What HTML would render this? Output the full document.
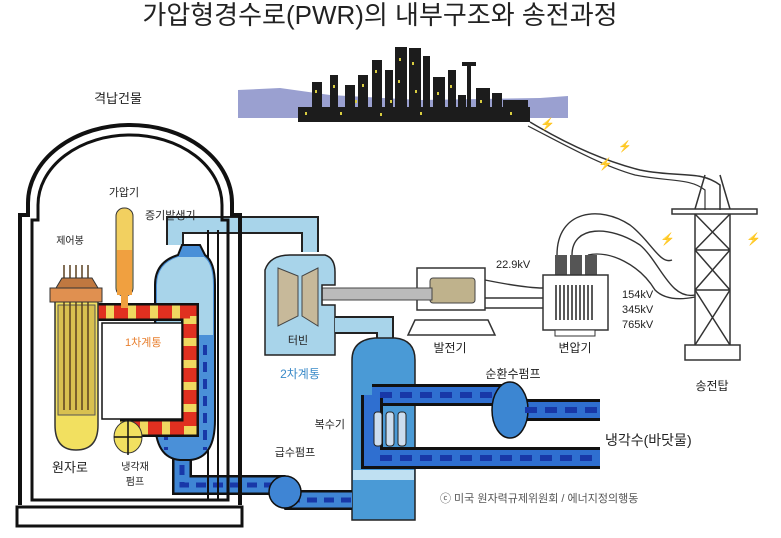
<!DOCTYPE html>
<html><head><meta charset="utf-8"><style>
html,body{margin:0;padding:0;background:#fff;}
svg{display:block;}
text{font-family:"Liberation Sans","Noto Sans CJK KR","NanumGothic",sans-serif;}
</style></head><body>
<svg width="781" height="538" viewBox="0 0 781 538" xmlns="http://www.w3.org/2000/svg">
<rect width="781" height="538" fill="#fff"/>
<text x="380" y="24" font-size="26" text-anchor="middle" fill="#222">가압형경수로(PWR)의 내부구조와 송전과정</text>

<!-- city -->
<polygon points="238,90 280,88 330,95 420,100 540,98 568,96 568,118 238,118" fill="#9aa0d0"/>
<g fill="#1c1c1c">
<rect x="298" y="107" width="232" height="15"/>
<rect x="312" y="82" width="10" height="30"/><rect x="330" y="75" width="8" height="35"/>
<rect x="345" y="85" width="10" height="25"/><rect x="358" y="75" width="10" height="35"/>
<rect x="372" y="60" width="10" height="50"/><rect x="385" y="70" width="8" height="40"/>
<rect x="395" y="47" width="12" height="63"/><rect x="409" y="48" width="12" height="62"/>
<rect x="423" y="56" width="7" height="54"/><rect x="433" y="77" width="12" height="33"/>
<rect x="448" y="70" width="8" height="40"/><rect x="458" y="95" width="8" height="15"/>
<rect x="467" y="65" width="4" height="45"/><rect x="462" y="62" width="14" height="4"/>
<rect x="476" y="88" width="14" height="22"/><rect x="492" y="93" width="10" height="17"/>
<rect x="503" y="100" width="25" height="10"/>
</g>
<g fill="#d8cc40">
<rect x="315" y="90" width="2" height="3"/><rect x="333" y="85" width="2" height="3"/><rect x="362" y="84" width="2" height="3"/>
<rect x="375" y="70" width="2" height="3"/><rect x="399" y="58" width="2" height="3"/><rect x="412" y="62" width="2" height="3"/>
<rect x="398" y="80" width="2" height="3"/><rect x="415" y="90" width="2" height="3"/><rect x="437" y="92" width="2" height="3"/>
<rect x="450" y="85" width="2" height="3"/><rect x="305" y="112" width="2" height="3"/><rect x="340" y="112" width="2" height="3"/>
<rect x="380" y="113" width="2" height="3"/><rect x="420" y="112" width="2" height="3"/><rect x="480" y="100" width="2" height="3"/>
<rect x="510" y="112" width="2" height="3"/><rect x="355" y="100" width="2" height="3"/><rect x="390" y="100" width="2" height="3"/>
</g>
<path d="M530,122 C560,140 600,160 640,170 C680,178 700,170 720,185 L720,210" fill="none" stroke="#333" stroke-width="1.5"/>
<path d="M528,126 C565,145 600,165 635,175 C670,182 690,178 705,190 L705,210" fill="none" stroke="#333" stroke-width="1.2"/>
<text x="540" y="128" font-size="12" fill="#e0e030">⚡</text>
<text x="598" y="168" font-size="12" fill="#e0e030">⚡</text>
<text x="618" y="150" font-size="11" fill="#e0e030">⚡</text>

<!-- tower -->
<g fill="none" stroke="#333" stroke-width="1.5">
<rect x="672" y="209" width="85" height="5"/>
<path d="M695,214 L695,345 M730,214 L730,345 M705,175 L695,209 M720,175 L730,209"/>
<path d="M695,214 L730,250 M730,214 L695,250 M695,250 L730,290 M730,250 L695,290 M695,290 L730,345 M730,290 L695,345 M695,250 L730,250 M695,290 L730,290"/>
<rect x="685" y="345" width="55" height="15"/>
</g>
<text x="660" y="243" font-size="12" fill="#e0e030">⚡</text>
<text x="746" y="243" font-size="12" fill="#e0e030">⚡</text>
<text x="712" y="390" font-size="12" text-anchor="middle" fill="#222">송전탑</text>

<g fill="none" stroke="#333" stroke-width="1.4">
<path d="M557,255 C557,210 600,205 630,225 C650,240 660,265 672,260"/>
<path d="M572,255 C572,225 610,225 640,245 C660,262 670,300 695,295"/>
<path d="M588,255 C610,250 640,265 655,290 C665,300 680,300 695,297"/>
<path d="M485,280 C510,285 530,288 543,288"/>
<path d="M485,298 L543,298"/>
<path d="M485,308 L543,308"/>
</g>
<rect x="555" y="255" width="12" height="20" fill="#555"/><rect x="570" y="255" width="12" height="20" fill="#555"/><rect x="585" y="255" width="12" height="20" fill="#555"/>
<rect x="543" y="275" width="65" height="55" fill="#fff" stroke="#333" stroke-width="1.5"/>
<g stroke="#222" stroke-width="1.5"><path d="M556,285 V320 M560,285 V320 M564,285 V320 M568,285 V320 M572,285 V320 M576,285 V320 M580,285 V320 M584,285 V320 M588,285 V320 M592,285 V320"/></g>
<rect x="555" y="330" width="40" height="6" fill="#fff" stroke="#333"/>
<text x="496" y="268" font-size="11" fill="#222">22.9kV</text>
<text x="622" y="298" font-size="11" fill="#222">154kV</text>
<text x="622" y="313" font-size="11" fill="#222">345kV</text>
<text x="622" y="328" font-size="11" fill="#222">765kV</text>
<text x="575" y="352" font-size="12" text-anchor="middle" fill="#222">변압기</text>

<rect x="417" y="268" width="68" height="42" fill="#fff" stroke="#333" stroke-width="1.5"/>
<rect x="430" y="278" width="45" height="25" rx="3" fill="#bfb28c" stroke="#444"/>
<polygon points="415,320 488,320 495,335 408,335" fill="#fff" stroke="#333" stroke-width="1.5"/>
<text x="450" y="352" font-size="12" text-anchor="middle" fill="#222">발전기</text>
<rect x="320" y="288" width="112" height="12" fill="#bbb" stroke="#444"/>

<path d="M175,245 L175,225 L310,225 L310,252" fill="none" stroke="#222" stroke-width="18"/>
<path d="M175,245 L175,225 L310,225 L310,252" fill="none" stroke="#a8d4ea" stroke-width="14"/>
<path d="M265,270 Q270,255 290,255 L325,255 Q335,258 335,272 L335,285 L322,285 L322,305 L335,305 L335,355 L265,355 Z" fill="#a8d4ea" stroke="#222" stroke-width="1.5"/>
<polygon points="278,268 298,276 298,316 278,326" fill="#c7b99a" stroke="#444"/>
<polygon points="318,268 302,276 302,316 318,326" fill="#c7b99a" stroke="#444"/>
<text x="298" y="344" font-size="11" text-anchor="middle" fill="#222">터빈</text>
<text x="300" y="378" font-size="12" text-anchor="middle" fill="#3a8ac8">2차계통</text>
<path d="M335,325 L385,325 L385,355" fill="none" stroke="#222" stroke-width="18"/>
<path d="M335,325 L385,325 L385,355" fill="none" stroke="#a8d4ea" stroke-width="14"/>
<path d="M352,360 Q352,340 375,338 L395,338 Q415,340 415,360 L415,520 L352,520 Z" fill="#4a9ad6" stroke="#222" stroke-width="1.5"/>
<rect x="353" y="470" width="61" height="10" fill="#bfe0f2"/>
<text x="345" y="428" font-size="11" text-anchor="end" fill="#222">복수기</text>

<path d="M372,395 L505,395 M505,410 L600,410" fill="none" stroke="#111" stroke-width="22"/>
<path d="M372,395 L505,395 M505,410 L600,410" fill="none" stroke="#2f6fd0" stroke-width="16"/>
<path d="M372,395 L372,458 L600,458" fill="none" stroke="#111" stroke-width="22"/>
<path d="M372,395 L372,458 L600,458" fill="none" stroke="#2f6fd0" stroke-width="16"/>
<ellipse cx="510" cy="410" rx="18" ry="28" fill="#3c86d2" stroke="#111" stroke-width="1.5"/>
<g stroke="#1838a8" stroke-width="6" stroke-dasharray="12,8"><path d="M380,395 H500 M525,410 H600 M380,458 H600"/></g>
<rect x="374" y="412" width="8" height="34" rx="3" fill="#cde" stroke="#222"/>
<rect x="386" y="412" width="8" height="34" rx="3" fill="#cde" stroke="#222"/>
<rect x="398" y="412" width="8" height="34" rx="3" fill="#cde" stroke="#222"/>
<text x="513" y="378" font-size="12" text-anchor="middle" fill="#222">순환수펌프</text>
<text x="605" y="445" font-size="14" fill="#222">냉각수(바닷물)</text>
<text x="440" y="502" font-size="11" fill="#555">ⓒ 미국 원자력규제위원회 / 에너지정의행동</text>

<path d="M182,455 L182,485 L280,485 L290,500 L352,500" fill="none" stroke="#111" stroke-width="20"/>
<path d="M182,455 L182,485 L280,485 L290,500 L352,500" fill="none" stroke="#3f85d4" stroke-width="15"/>
<g stroke="#1838a8" stroke-width="5" stroke-dasharray="10,7" fill="none"><path d="M182,465 L182,485 L280,485 L290,500 L352,500"/></g>
<circle cx="285" cy="492" r="16" fill="#3f85d4" stroke="#111" stroke-width="1.5"/>
<text x="295" y="456" font-size="11" text-anchor="middle" fill="#222">급수펌프</text>

<!-- containment -->
<g fill="none" stroke="#111">
<path d="M20,505 L20,215 L28,215 L28,203 A102,78 0 0 1 232,203 L232,215 L240,215 L240,505" stroke-width="4"/>
<path d="M32,500 L32,220 L38,220 L38,205 A92,70 0 0 1 222,205 L222,220 L228,220 L228,500 Z" stroke-width="3"/>
<path d="M208,230 L208,500 M218,230 L218,500" stroke-width="2"/>
<rect x="17" y="507" width="225" height="19" stroke-width="3" fill="#fff"/>
</g>
<text x="118" y="103" font-size="13" text-anchor="middle" fill="#222">격납건물</text>

<path d="M155,285 Q155,262 178,255 L182,245 L200,245 L205,255 Q215,262 215,285 L215,420 Q215,458 190,460 L180,460 Q155,458 155,420 Z" fill="#4a90d8" stroke="#111" stroke-width="2"/>
<path d="M157,285 Q157,264 178,257 L204,257 Q213,264 213,285 L213,335 L157,335 Z" fill="#a8d4ea"/>
<g stroke="#1838a8" stroke-width="4" stroke-dasharray="10,7"><path d="M166,345 V450 M205,345 V450"/></g>

<path d="M92,312 L190,312 L190,428 L120,428" fill="none" stroke="#111" stroke-width="18"/>
<path d="M92,312 L190,312 L190,428 L120,428" fill="none" stroke="#f0d860" stroke-width="13"/>
<path d="M92,312 L190,312 L190,428 L120,428" fill="none" stroke="#e03020" stroke-width="13" stroke-dasharray="14,8"/>
<path d="M92,312 L92,430" fill="none" stroke="#e03020" stroke-width="10" stroke-dasharray="14,8"/>
<rect x="102" y="323" width="80" height="96" fill="#fff" stroke="#111" stroke-width="1.5"/>
<text x="125" y="346" font-size="11" fill="#e88030">1차계통</text>
<rect x="116" y="208" width="17" height="88" rx="8" fill="#f2d060" stroke="#333"/>
<rect x="117" y="250" width="15" height="45" fill="#f0a040"/>
<rect x="121" y="294" width="7" height="14" fill="#f0a040"/>
<text x="124" y="196" font-size="11" text-anchor="middle" fill="#222">가압기</text>
<text x="145" y="219" font-size="11" fill="#222">증기발생기</text>
<path d="M55,300 L98,300 L98,425 Q98,450 76,450 Q55,450 55,425 Z" fill="#f2e060" stroke="#333" stroke-width="1.5"/>
<rect x="58" y="305" width="37" height="110" fill="#d8c050" stroke="#555"/>
<g stroke="#5a4020" stroke-width="1.5"><path d="M64,265 V410 M70,265 V410 M76,265 V410 M82,265 V410 M88,265 V410"/></g>
<rect x="50" y="288" width="52" height="14" fill="#e09050" stroke="#333"/>
<path d="M56,288 L62,278 L92,278 L98,288 Z" fill="#c07840" stroke="#333"/>
<text x="70" y="244" font-size="10" text-anchor="middle" fill="#222">제어봉</text>
<text x="70" y="472" font-size="13" text-anchor="middle" fill="#222">원자로</text>
<ellipse cx="128" cy="437" rx="14" ry="16" fill="#f2e060" stroke="#333"/>
<path d="M128,420 V455 M114,437 H142" stroke="#111" stroke-width="1.5"/>
<text x="135" y="470" font-size="10" text-anchor="middle" fill="#222">냉각재</text>
<text x="135" y="485" font-size="10" text-anchor="middle" fill="#222">펌프</text>
</svg>
</body></html>
